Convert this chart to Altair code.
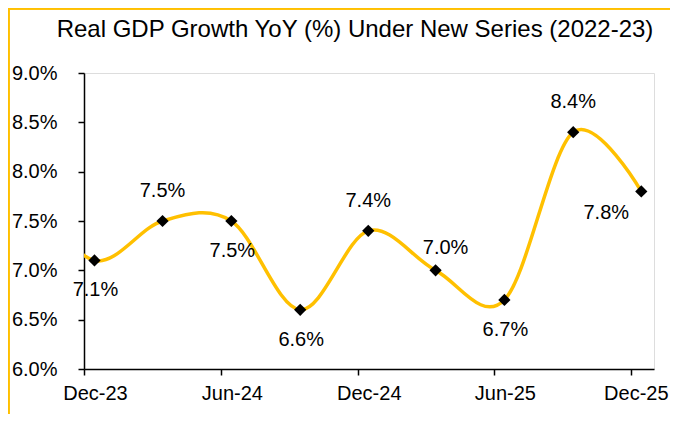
import altair as alt
import pandas as pd

# Quarter-end observations (plotted mid-month); first value is the clipped lead-in
quarters = ["2023-09-15T00:00:00", "2023-12-15T00:00:00", "2024-03-15T00:00:00",
            "2024-06-15T00:00:00", "2024-09-15T00:00:00", "2024-12-15T00:00:00",
            "2025-03-15T00:00:00", "2025-06-15T00:00:00", "2025-09-15T00:00:00",
            "2025-12-15T00:00:00"]
growth = [7.8, 7.1, 7.5, 7.5, 6.6, 7.4, 7.0, 6.7, 8.4, 7.8]
shown = [False, True, True, True, True, True, True, True, True, True]
label_place = ["none", "below", "above", "below", "below", "above",
               "above-right", "below", "above", "below-left"]

y_ticks = [6.0, 6.5, 7.0, 7.5, 8.0, 8.5, 9.0]
x_tick_dates = [(2023, 12), (2024, 6), (2024, 12), (2025, 6), (2025, 12)]

df = pd.DataFrame({"date": quarters, "growth": growth, "shown": shown, "place": label_place})
df["label"] = df["growth"].map(lambda v: f"{v:.1f}%")

FONT = "Liberation Sans"
GOLD = "#FFC000"

x_enc = alt.X(
    "date:T",
    scale=alt.Scale(domain=[alt.DateTime(year=2023, month=12, date=1),
                            alt.DateTime(year=2026, month=1, date=1)]),
    axis=alt.Axis(
        title=None,
        values=[alt.DateTime(year=y, month=m, date=1) for y, m in x_tick_dates],
        format="%b-%y",
        labelOffset={"condition": {"test": "datum.index === 1", "value": 5}, "value": 11},
        labelFlush=False,
        labelOverlap=False,
        labelBound=False,
        labelFont=FONT, labelFontSize=20, labelColor="black",
        labelPadding=8,
        domainColor="black", domainWidth=1.5,
        tickColor="black", tickWidth=1.5, tickSize=6,
        grid=False,
    ),
)
y_enc = alt.Y(
    "growth:Q",
    scale=alt.Scale(domain=[6.0, 9.0], nice=False, zero=False),
    axis=alt.Axis(
        title=None,
        values=y_ticks,
        labelExpr="format(datum.value, '.1f') + '%'",
        labelFont=FONT, labelFontSize=20, labelColor="black",
        labelPadding=21,
        domainColor="black", domainWidth=1.5,
        tickColor="black", tickWidth=1.5, tickSize=6,
        grid=False,
    ),
)

base = alt.Chart(df)

line = base.mark_line(color=GOLD, strokeWidth=3.5, interpolate="cardinal", tension=0, clip=True).encode(
    x=x_enc, y=y_enc
)
points = base.transform_filter("datum.shown").mark_point(
    shape="diamond", filled=True, color="black", size=150, opacity=1
).encode(x="date:T", y="growth:Q")

offsets = {"above": (0, -30), "below": (1, 30), "above-right": (10, -22), "below-left": (-35, 22)}
texts = []
for place, (dx, dy) in offsets.items():
    texts.append(
        base.transform_filter(f"datum.place == '{place}'").mark_text(
            font=FONT, fontSize=20, color="black", dx=dx, dy=dy, baseline="middle", align="center"
        ).encode(x="date:T", y="growth:Q", text="label:N")
    )

border_top = alt.Chart(df).mark_rule(color=GOLD, strokeWidth=1.5).encode(
    x=alt.value(-75.5), x2=alt.value(586), y=alt.value(-64.5)
)
border_left = alt.Chart(df).mark_rule(color=GOLD, strokeWidth=1.5).encode(
    x=alt.value(-75.5), y=alt.value(-64.5), y2=alt.value(341)
)

chart = alt.layer(line, points, *texts, border_top, border_left).properties(
    width=570,
    height=296,
    autosize=alt.AutoSizeParams(type="none"),
    padding={"left": 76, "top": 65, "right": 16, "bottom": 45},
    title=alt.TitleParams(
        "Real GDP Growth YoY (%) Under New Series (2022-23)",
        font=FONT, fontSize=24, fontWeight="normal", color="black",
        anchor="middle", dx=-14, offset=0, dy=53, baseline="alphabetic",
    ),
).configure_view(stroke=None).configure(background="white")

chart.save("out.html", embed_options={"renderer": "svg", "actions": False})
